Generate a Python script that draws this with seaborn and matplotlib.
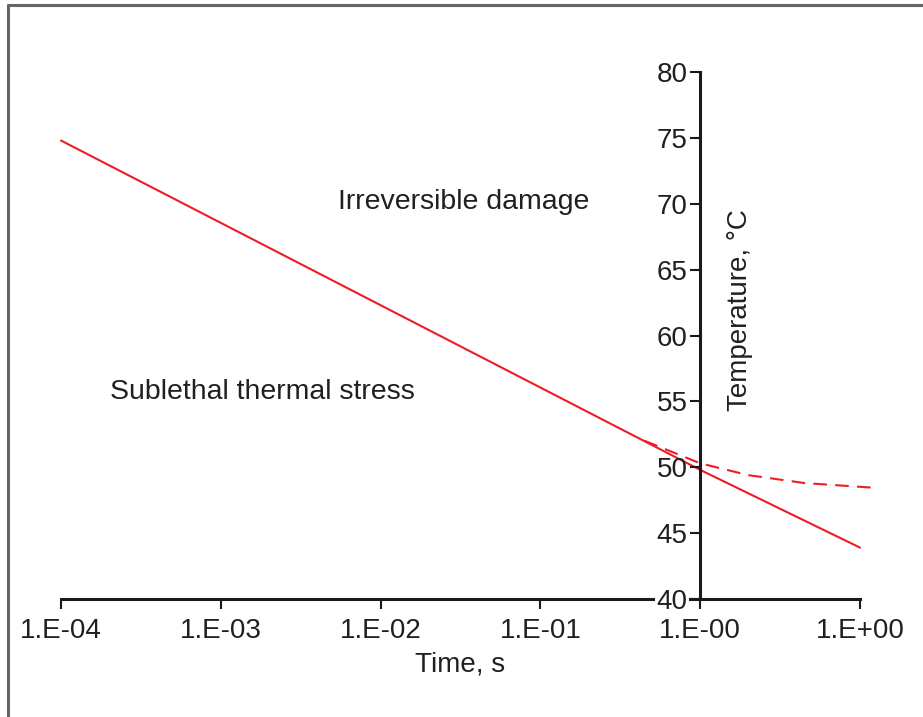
import numpy as np
import pandas as pd
import seaborn as sns
import matplotlib
matplotlib.use("Agg")
import matplotlib.pyplot as plt
from matplotlib.lines import Line2D

# ---- data ----
solid_time = [1e-4, 1e0, 1e1]
solid_temp = [74.8, 49.8, 43.9]
dash_time = [0.45, 1.0, 2.0, 4.5, 12.0]
dash_temp = [52.0, 50.3, 49.4, 48.8, 48.45]
xticks = [1e-4, 1e-3, 1e-2, 1e-1, 1e0, 1e1]
xtick_labels = ["1.E-04", "1.E-03", "1.E-02", "1.E-01", "1.E-00", "1.E+00"]
yticks = [40, 45, 50, 55, 60, 65, 70, 75, 80]

sns.set_theme(style="white")
plt.rcParams["font.family"] = ["Liberation Sans", "DejaVu Sans"]

TXT = "#231f20"
RED = "#ee1c25"

fig = plt.figure(figsize=(9.23, 7.17), dpi=100)
ax = fig.add_axes([61 / 923, 1 - 599 / 717, (860 - 61) / 923, (599 - 72) / 717])

df_s = pd.DataFrame({"t": solid_time, "T": solid_temp})
df_d = pd.DataFrame({"t": dash_time, "T": dash_temp})
sns.lineplot(data=df_s, x="t", y="T", ax=ax, color=RED, lw=1.5)
sns.lineplot(data=df_d, x="t", y="T", ax=ax, color=RED, lw=1.5,
             linestyle=(0, (6.5, 4)))
for ln in ax.lines:
    ln.set_clip_on(False)

ax.set_xscale("log")
ax.set_xlim(1e-4, 1e1)
ax.set_ylim(40, 80)
ax.set_xticks(xticks)
ax.set_xticklabels(xtick_labels)
ax.minorticks_off()
ax.set_yticks(yticks)
ax.set_yticklabels([str(v) for v in yticks])
ax.set_xlabel("")
ax.set_ylabel("")

for s in ["top", "right"]:
    ax.spines[s].set_visible(False)
ax.spines["left"].set_position(("data", 1.0))
for s in ["left", "bottom"]:
    ax.spines[s].set_linewidth(2.2)
    ax.spines[s].set_color("#1a1a1a")

ax.tick_params(axis="both", direction="out", length=7, width=1.5,
               colors="#1a1a1a", labelcolor=TXT, labelsize=20,
               bottom=True, left=True)
ax.tick_params(axis="x", pad=7)
ax.tick_params(axis="y", pad=2)
ax.yaxis.set_zorder(3)
for lab in ax.get_yticklabels():
    if lab.get_text() == "40":
        lab.set_bbox(dict(facecolor="white", edgecolor="none", pad=1))

ax.text(0.5, -0.125, "Time, s", transform=ax.transAxes, ha="center",
        va="center", fontsize=20, color=TXT)
ax.text(0.85, 0.548, "Temperature, \u00b0C", transform=ax.transAxes,
        rotation=90, ha="center", va="center", fontsize=20, color=TXT)
ax.text(10 ** -1.48, 70.1, "Irreversible damage", ha="center", va="center",
        fontsize=20.5, color=TXT)
ax.text(10 ** -2.74, 55.7, "Sublethal thermal stress", ha="center",
        va="center", fontsize=20.5, color=TXT)

# partial frame (left and top)
fig.add_artist(Line2D([8 / 923, 8 / 923], [0, 1 - 5 / 717],
                      transform=fig.transFigure, color="#666666", lw=2.2))
fig.add_artist(Line2D([8 / 923, 1], [1 - 5 / 717, 1 - 5 / 717],
                      transform=fig.transFigure, color="#666666", lw=2.2))

fig.savefig("out.png", dpi=100, facecolor="white")
